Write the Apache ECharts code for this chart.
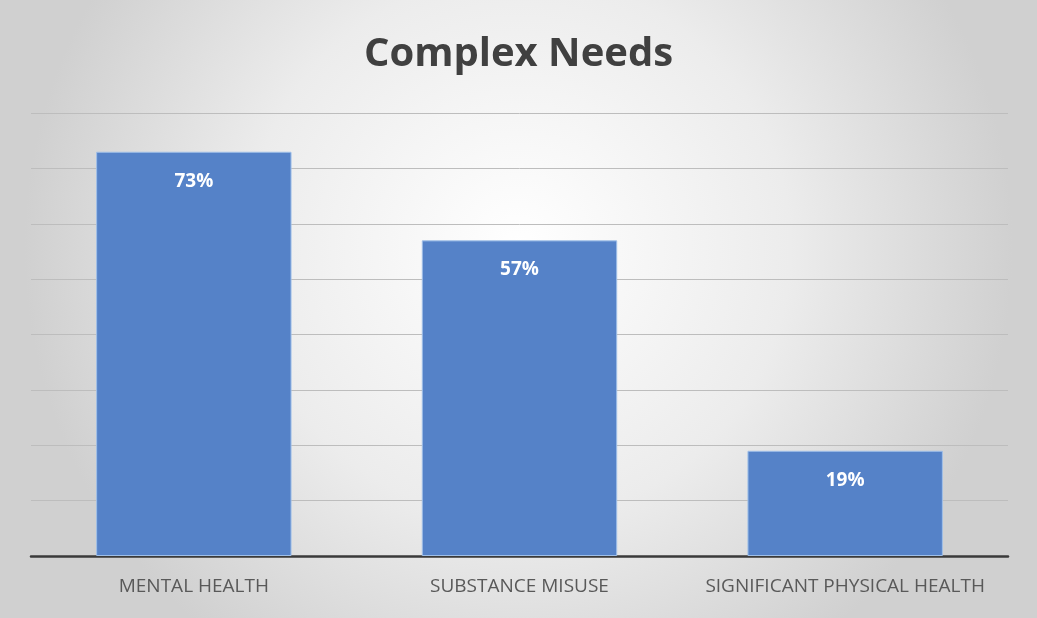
<!DOCTYPE html>
<html><head><meta charset="utf-8">
<script src="https://cdn.jsdelivr.net/npm/echarts@6/dist/echarts.min.js"></script>
<style>html,body{margin:0;padding:0;background:#fff;}#c{width:1037px;height:618px;}</style>
</head><body><div id="c"></div>
<script>
var categories = ['MENTAL HEALTH', 'SUBSTANCE MISUSE', 'SIGNIFICANT PHYSICAL HEALTH'];
var values = [73, 57, 19];
var chart = echarts.init(document.getElementById('c'), null, {renderer:'canvas'});
chart.setOption({
  backgroundColor: {
    type: 'radial', x: 0.5, y: 0.4, r: 0.8,
    colorStops: [{offset:0, color:'#ffffff'},{offset:0.55, color:'#ececec'},{offset:1, color:'#d0d0d0'}]
  },
  animation: false,
  title: {
    text: 'Complex Needs', left: 'center', top: 30,
    textStyle: {fontFamily: 'Open Sans', fontWeight: 'bold', fontSize: 40, color: '#404040'}
  },
  grid: {left: 31, right: 29, top: 113, bottom: 62, containLabel: false},
  xAxis: {
    type: 'category', data: categories,
    axisLine: {lineStyle: {color: '#3a3a3a', width: 2.5}},
    axisTick: {show: false},
    axisLabel: {color: '#595959', fontSize: 19, fontFamily: 'Open Sans', margin: 21,
      interval: 0, hideOverlap: false}
  },
  yAxis: {
    type: 'value', min: 0, max: 80, interval: 10,
    axisLabel: {show: false}, axisLine: {show: false}, axisTick: {show: false},
    splitLine: {lineStyle: {color: '#bdbdbd', width: 1}}
  },
  series: [{
    type: 'bar', data: values, barWidth: '60%',
    itemStyle: {color: '#5582c8', borderColor: '#9fbfe8', borderWidth: 1},
    label: {show: true, position: 'insideTop', distance: 20, color: '#ffffff',
      fontWeight: 'bold', fontSize: 19, fontFamily: 'Open Sans', formatter: '{c}%'}
  }]
});
</script></body></html>
